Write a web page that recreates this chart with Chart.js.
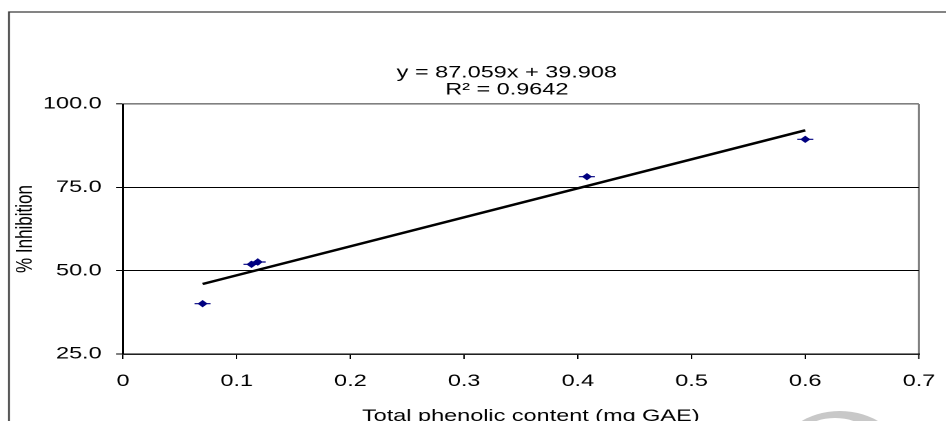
<!DOCTYPE html>
<html>
<head>
<meta charset="utf-8">
<script src="https://cdn.jsdelivr.net/npm/chart.js@4.4.1/dist/chart.umd.min.js"></script>
<style>
  html, body { margin: 0; padding: 0; background: #fff; overflow: hidden; }
  #wrap { position: absolute; left: 0; top: 0; width: 686px; height: 421px; transform: scaleX(1.379); transform-origin: 0 0; }
</style>
</head>
<body>
<div id="wrap"><canvas id="chart"></canvas></div>
<script>
// values
const phenolic = [0.07, 0.113, 0.1185, 0.408, 0.60];
const inhibition = [40.1, 51.9, 52.6, 78.2, 89.4];
const trendX = [0.07, 0.60];
const trendY = [46.0, 92.1];
const equationText = 'y = 87.059x + 39.908';
const r2Text = 'R\u00B2 = 0.9642';
const xTitle = 'Total phenolic content (mg GAE)';
const yTitle = '% Inhibition';

const pts = phenolic.map((x, i) => ({ x: x, y: inhibition[i] }));
const trend = trendX.map((x, i) => ({ x: x, y: trendY[i] }));
const navy = '#000080';
const near = (a, b) => Math.abs(a - b) < 1e-6;

Chart.defaults.font.family = "'Liberation Sans', Arial, sans-serif";
Chart.defaults.color = '#000';

const extras = {
    id: 'extras',
    beforeDraw(chart) {
        const c = chart.ctx;
        c.save();
        c.strokeStyle = '#3a3a3a';
        c.lineWidth = 1.2;
        c.beginPath();
        c.moveTo(6.5, 421);
        c.lineTo(6.5, 12);
        c.lineTo(686, 12);
        c.stroke();
        // faint watermark in the corner
        c.fillStyle = '#c8c8c8';
        c.beginPath();
        c.ellipse(609, 455, 43.5, 44, 0, 0, Math.PI * 2);
        c.fill();
        c.fillStyle = '#fff';
        c.beginPath();
        c.ellipse(605.5, 460, 36, 42, 0, 0, Math.PI * 2);
        c.fill();
        c.restore();
    },
    afterDraw(chart) {
        const c = chart.ctx;
        c.save();
        c.fillStyle = '#000';
        c.font = "17px 'Liberation Sans', Arial, sans-serif";
        c.textAlign = 'center';
        c.textBaseline = 'alphabetic';
        c.fillText(equationText, 367.5, 77.5);
        c.fillText(r2Text, 367.5, 94.5);
        c.textAlign = 'left';
        c.fillText(xTitle, 262.5, 421);
        c.restore();
    }
};

new Chart(document.getElementById('chart'), {
    type: 'scatter',
    data: {
        datasets: [
            {
                label: 'trend',
                data: trend,
                showLine: true,
                borderColor: '#000',
                borderWidth: 2.5,
                pointRadius: 0
            },
            {
                label: 'err',
                data: pts,
                pointStyle: 'line',
                pointRadius: 5.8,
                borderColor: navy,
                borderWidth: 1.2
            },
            {
                label: 'points',
                data: pts,
                pointStyle: 'rectRot',
                pointRadius: 3,
                backgroundColor: navy,
                borderColor: navy,
                borderWidth: 1
            }
        ]
    },
    options: {
        responsive: true,
        maintainAspectRatio: false,
        devicePixelRatio: 2,
        animation: false,
        layout: { padding: { top: 104, right: 19.6, bottom: 0, left: 0 } },
        plugins: {
            legend: { display: false },
            tooltip: { enabled: false }
        },
        scales: {
            x: {
                type: 'linear',
                min: 0,
                max: 0.7,
                afterFit: s => { s.height = 67; s.paddingLeft = 0; s.paddingRight = 0; },
                ticks: {
                    stepSize: 0.1,
                    padding: 12,
                    maxRotation: 0,
                    font: { size: 17 },
                    callback: v => near(v, 0) ? '0' : v.toFixed(1)
                },
                grid: {
                    tickLength: 5,
                    color: ctx => ctx.tick && near(ctx.tick.value, 0.7) ? '#808080' : 'rgba(0,0,0,0)',
                    lineWidth: ctx => ctx.tick && near(ctx.tick.value, 0.7) ? 1.5 : 1,
                    tickColor: '#000',
                    tickWidth: 1
                },
                border: { color: '#000', width: 1.4 }
            },
            y: {
                min: 25,
                max: 100,
                afterFit: s => { s.width = 89.2; },
                ticks: {
                    stepSize: 25,
                    padding: 10.4,
                    font: { size: 17 },
                    callback: v => v.toFixed(1)
                },
                grid: {
                    tickLength: 5.1,
                    color: ctx => ctx.tick && near(ctx.tick.value, 100) ? '#808080' : '#000',
                    lineWidth: ctx => ctx.tick && near(ctx.tick.value, 100) ? 1.6 : 1,
                    tickColor: '#000',
                    tickWidth: 1
                },
                border: { color: '#000', width: 1.5 },
                title: {
                    display: true,
                    text: yTitle,
                    font: { size: 17 },
                    padding: { top: 7.9, bottom: 0 }
                }
            }
        }
    },
    plugins: [extras]
});
</script>
</body>
</html>
